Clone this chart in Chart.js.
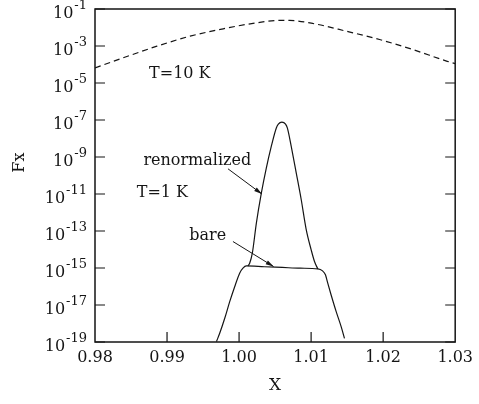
<!DOCTYPE html>
<html>
<head>
<meta charset="utf-8">
<script src="https://cdn.jsdelivr.net/npm/chart.js@4.4.0/dist/chart.umd.min.js"></script>
<style>
  html, body { margin: 0; padding: 0; background: #fff; }
  #wrap { width: 479px; height: 404px; }
</style>
</head>
<body>
<div id="wrap"><canvas id="fxChart" width="479" height="404"></canvas></div>
<script>
// T = 10 K (dashed curve)
const warmX  = [0.9800, 0.9839, 0.9886, 0.9932, 0.9978, 1.0024, 1.0056, 1.0070, 1.0102, 1.0149, 1.0195, 1.0241, 1.0287, 1.0300];
const warmFx = [6.61e-5, 2.29e-4, 9.77e-4, 3.39e-3, 8.51e-3, 1.78e-2, 2.40e-2, 2.40e-2, 1.66e-2, 6.31e-3, 2.24e-3, 6.46e-4, 1.58e-4, 1.12e-4];

// T = 1 K, bare
const bareX  = [0.99686, 0.99731, 0.99801, 0.99870, 0.99939, 1.00008, 1.00054, 1.00101, 1.0035, 1.0060, 1.0085, 1.01093, 1.01154, 1.01199, 1.01231, 1.01278, 1.01348, 1.01417, 1.01463];
const bareFx = [1.05e-19, 2.95e-19, 1.91e-18, 1.51e-17, 9.77e-17, 5.25e-16, 9.77e-16, 1.29e-15, 1.17e-15, 1.07e-15, 9.77e-16, 8.91e-16, 7.24e-16, 4.27e-16, 1.51e-16, 3.47e-17, 4.37e-18, 6.76e-19, 1.58e-19];

// T = 1 K, renormalized
const renormX  = [1.00123, 1.00147, 1.00184, 1.00240, 1.00309, 1.00378, 1.00447, 1.00517, 1.00545, 1.00594, 1.00645, 1.00670, 1.00724, 1.00794, 1.00863, 1.00930, 1.01001, 1.01047, 1.01093];
const renormFx = [1.29e-15, 1.82e-15, 6.31e-15, 2.69e-13, 1.12e-11, 2.51e-10, 3.72e-9, 3.72e-8, 6.03e-8, 7.76e-8, 6.03e-8, 3.72e-8, 3.72e-9, 1.35e-10, 4.90e-12, 1.32e-13, 9.55e-15, 2.24e-15, 8.91e-16];

const xTicks = [0.98, 0.99, 1.00, 1.01, 1.02, 1.03];
const yExponents = [-1, -3, -5, -7, -9, -11, -13, -15, -17, -19];

// text labels and arrows, in data coordinates
const notes = [
    { text: 'T=10 K', x: 0.99177, y: 3.2e-5 },
    { text: 'renormalized', x: 0.99420, y: 6.3e-10 },
    { text: 'T=1 K', x: 0.98935, y: 1.2e-11 },
    { text: 'bare', x: 0.99565, y: 5.5e-14 }
];
const arrows = [
    { from: [0.99846, 2.3e-10], to: [1.00317, 1.0e-11] },
    { from: [0.99915, 2.7e-14], to: [1.00479, 1.2e-15] }
];

const SERIF = '"DejaVu Serif", "Liberation Serif", serif';
const INK = '#151515';

function toPoints(xs, ys) {
    return xs.map((x, i) => ({ x: x, y: ys[i] }));
}

// frame, inward ticks, y labels, notes
const framePlugin = {
    id: 'frame',
    afterDraw(chart) {
        const ctx = chart.ctx;
        const a = chart.chartArea;
        const xs = chart.scales.x;
        const ys = chart.scales.y;
        ctx.save();
        ctx.strokeStyle = INK;
        ctx.fillStyle = INK;
        ctx.lineWidth = 1.5;
        ctx.strokeRect(a.left, a.top, a.right - a.left, a.bottom - a.top);

        ctx.lineWidth = 1.2;
        ctx.beginPath();
        yExponents.forEach(e => {
            const py = ys.getPixelForValue(Math.pow(10, e));
            ctx.moveTo(a.left, py); ctx.lineTo(a.left + 10, py);
            ctx.moveTo(a.right, py); ctx.lineTo(a.right - 10, py);
        });
        xTicks.slice(1, -1).forEach(v => {
            const px = xs.getPixelForValue(v);
            ctx.moveTo(px, a.bottom); ctx.lineTo(px, a.bottom - 10);
        });
        ctx.stroke();

        // y tick labels: 10 with raised exponent
        const right = a.left - 8;
        ctx.textBaseline = 'middle';
        ctx.textAlign = 'left';
        yExponents.forEach(e => {
            const py = ys.getPixelForValue(Math.pow(10, e));
            const exp = '-' + Math.abs(e);
            ctx.font = '13px ' + SERIF;
            const ew = ctx.measureText(exp).width;
            ctx.fillText(exp, right - ew, py - 3);
            ctx.font = '16px ' + SERIF;
            const bw = ctx.measureText('10').width;
            ctx.fillText('10', right - ew - bw - 1, py + 5);
        });

        // y axis title
        ctx.save();
        ctx.translate(20, ys.getPixelForValue(5e-10));
        ctx.rotate(-Math.PI / 2);
        ctx.textAlign = 'center';
        ctx.font = '16px ' + SERIF;
        ctx.fillText('Fx', 0, 0);
        ctx.restore();

        // notes
        ctx.font = '16px ' + SERIF;
        ctx.textAlign = 'center';
        notes.forEach(n => {
            ctx.fillText(n.text, xs.getPixelForValue(n.x), ys.getPixelForValue(n.y));
        });

        ctx.lineWidth = 1;
        arrows.forEach(ar => {
            const x0 = xs.getPixelForValue(ar.from[0]), y0 = ys.getPixelForValue(ar.from[1]);
            const x1 = xs.getPixelForValue(ar.to[0]), y1 = ys.getPixelForValue(ar.to[1]);
            const ang = Math.atan2(y1 - y0, x1 - x0);
            ctx.beginPath();
            ctx.moveTo(x0, y0); ctx.lineTo(x1, y1);
            ctx.stroke();
            ctx.beginPath();
            ctx.moveTo(x1, y1);
            ctx.lineTo(x1 - 8 * Math.cos(ang) + 2.2 * Math.sin(ang), y1 - 8 * Math.sin(ang) - 2.2 * Math.cos(ang));
            ctx.lineTo(x1 - 8 * Math.cos(ang) - 2.2 * Math.sin(ang), y1 - 8 * Math.sin(ang) + 2.2 * Math.cos(ang));
            ctx.closePath();
            ctx.fill();
        });
        ctx.restore();
    }
};

function createFxChart() {
    const ctx = document.getElementById('fxChart').getContext('2d');
    const lineStyle = {
        borderColor: INK,
        borderWidth: 1.2,
        pointRadius: 0,
        fill: false,
        cubicInterpolationMode: 'monotone'
    };

    new Chart(ctx, {
        type: 'line',
        data: {
            datasets: [
                Object.assign({ label: 'T=10 K', data: toPoints(warmX, warmFx), borderDash: [6, 4] }, lineStyle),
                Object.assign({ label: 'bare', data: toPoints(bareX, bareFx) }, lineStyle),
                Object.assign({ label: 'renormalized', data: toPoints(renormX, renormFx) }, lineStyle)
            ]
        },
        options: {
            responsive: false,
            animation: false,
            events: [],
            layout: { padding: { top: 9, right: 23, left: 0, bottom: 0 } },
            plugins: { legend: { display: false }, tooltip: { enabled: false } },
            scales: {
                x: {
                    type: 'linear',
                    min: 0.98,
                    max: 1.03,
                    afterBuildTicks: scale => { scale.ticks = xTicks.map(v => ({ value: v })); },
                    afterFit: scale => { scale.height = 62; },
                    grid: { display: false, drawTicks: false },
                    border: { display: false },
                    ticks: {
                        color: INK,
                        padding: 6,
                        maxRotation: 0,
                        font: { family: SERIF, size: 16 },
                        callback: v => v.toFixed(2)
                    },
                    title: {
                        display: true,
                        text: 'X',
                        color: INK,
                        font: { family: SERIF, size: 17 },
                        padding: { top: 0, bottom: 8 }
                    }
                },
                y: {
                    type: 'logarithmic',
                    min: 1e-19,
                    max: 1e-1,
                    afterFit: scale => { scale.width = 95; },
                    grid: { display: false, drawTicks: false },
                    border: { display: false },
                    ticks: { display: false }
                }
            }
        },
        plugins: [framePlugin]
    });
}

document.addEventListener('DOMContentLoaded', () => {
    createFxChart();
});
</script>
</body>
</html>
